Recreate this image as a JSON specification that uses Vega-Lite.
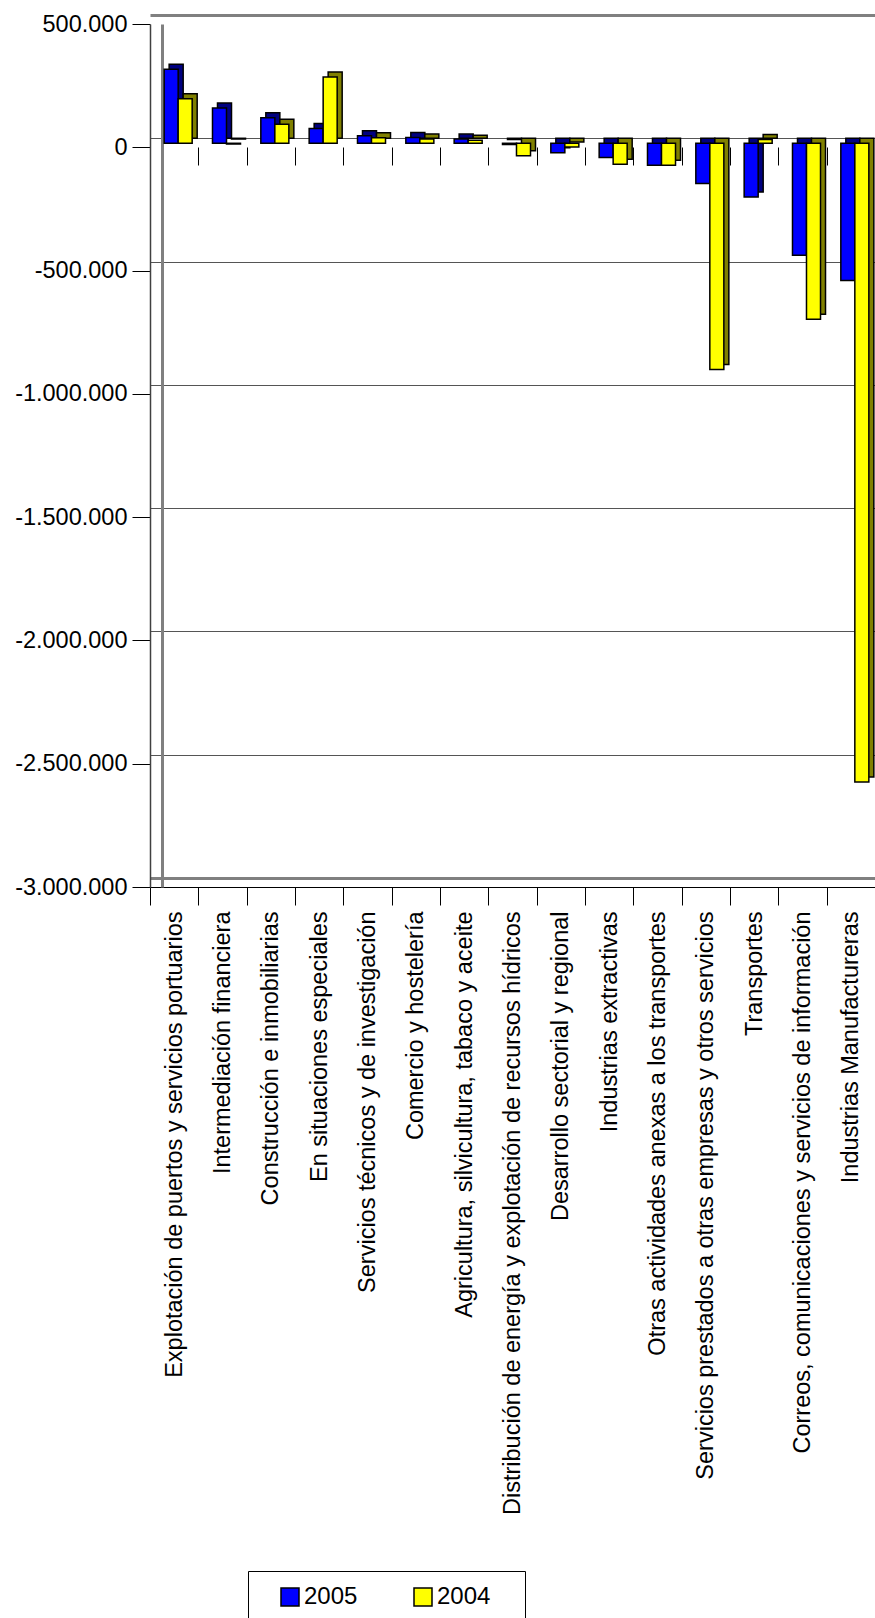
{
  "$schema": "https://vega.github.io/schema/vega-lite/v6.json",
  "autosize": {"type": "none"},
  "padding": {"left": 150, "top": 24, "right": 0, "bottom": 731},
  "width": 725,
  "height": 863,
  "background": "white",
  "config": {
    "view": {"stroke": null},
    "font": "Liberation Sans",
    "axis": {"labelFont": "Liberation Sans", "labelColor": "black"}
  },
  "data": {
    "values": [
      {"sector": "Explotación de puertos y servicios portuarios", "year": "2005", "value": 300000},
      {"sector": "Explotación de puertos y servicios portuarios", "year": "2004", "value": 181000},
      {"sector": "Intermediación financiera", "year": "2005", "value": 143000},
      {"sector": "Intermediación financiera", "year": "2004", "value": -3000},
      {"sector": "Construcción e inmobiliarias", "year": "2005", "value": 104000},
      {"sector": "Construcción e inmobiliarias", "year": "2004", "value": 77000},
      {"sector": "En situaciones especiales", "year": "2005", "value": 60000},
      {"sector": "En situaciones especiales", "year": "2004", "value": 269000},
      {"sector": "Servicios técnicos y de investigación", "year": "2005", "value": 31000},
      {"sector": "Servicios técnicos y de investigación", "year": "2004", "value": 22000},
      {"sector": "Comercio y hostelería", "year": "2005", "value": 23000},
      {"sector": "Comercio y hostelería", "year": "2004", "value": 17000},
      {"sector": "Agricultura, silvicultura, tabaco y aceite", "year": "2005", "value": 17000},
      {"sector": "Agricultura, silvicultura, tabaco y aceite", "year": "2004", "value": 12000},
      {"sector": "Distribución de energía y explotación de recursos hídricos", "year": "2005", "value": -5000},
      {"sector": "Distribución de energía y explotación de recursos hídricos", "year": "2004", "value": -51000},
      {"sector": "Desarrollo sectorial y regional", "year": "2005", "value": -38000},
      {"sector": "Desarrollo sectorial y regional", "year": "2004", "value": -15000},
      {"sector": "Industrias extractivas", "year": "2005", "value": -58000},
      {"sector": "Industrias extractivas", "year": "2004", "value": -85000},
      {"sector": "Otras actividades anexas a los transportes", "year": "2005", "value": -89000},
      {"sector": "Otras actividades anexas a los transportes", "year": "2004", "value": -89000},
      {"sector": "Servicios prestados a otras empresas y otros servicios", "year": "2005", "value": -163000},
      {"sector": "Servicios prestados a otras empresas y otros servicios", "year": "2004", "value": -917000},
      {"sector": "Transportes", "year": "2005", "value": -218000},
      {"sector": "Transportes", "year": "2004", "value": 15000},
      {"sector": "Correos, comunicaciones y servicios de información", "year": "2005", "value": -454000},
      {"sector": "Correos, comunicaciones y servicios de información", "year": "2004", "value": -714000},
      {"sector": "Industrias Manufactureras", "year": "2005", "value": -556000},
      {"sector": "Industrias Manufactureras", "year": "2004", "value": -2590000}
    ]
  },
  "resolve": {"axis": {"x": "independent", "y": "independent"}},
  "layer": [
    {
      "transform": [{"filter": "datum.year === '2005'"}],
      "mark": {"type": "bar", "opacity": 0},
      "encoding": {
        "x": {"field": "sector", "type": "nominal", "sort": null,
          "scale": {"paddingInner": 0, "paddingOuter": 0},
          "axis": {"orient": "bottom", "offset": -740, "title": null, "labels": false, "domain": false,
            "ticks": true, "tickBand": "extent", "tickSize": 18, "tickColor": "black", "tickWidth": 1, "grid": false}},
        "y": {"field": "value", "type": "quantitative",
          "scale": {"domain": [-3000000, 500000], "nice": false},
          "axis": {"orient": "left", "offset": -12, "title": null, "labels": false, "ticks": false,
            "values": [500000, 0, -500000, -1000000, -1500000, -2000000, -2500000, -3000000],
            "domain": true, "domainColor": "#808080", "domainWidth": 3,
            "grid": true, "tickOffset": -9,
            "gridColor": {"condition": {"test": "datum.value === 500000 || datum.value === -3000000", "value": "#808080"}, "value": "#555555"},
            "gridWidth": {"condition": {"test": "datum.value === 500000 || datum.value === -3000000", "value": 3}, "value": 1}}}
      }
    },
    {
      "transform": [{"filter": "datum.year === '2005'"}],
      "mark": {"type": "bar", "color": "#000080", "stroke": "black", "strokeWidth": 1.5, "width": {"band": 0.29}, "xOffset": 2, "x2Offset": 2, "yOffset": -9, "y2Offset": -9},
      "encoding": {
        "x": {"field": "sector", "type": "nominal", "sort": null, "axis": null},
        "y": {"field": "value", "type": "quantitative", "axis": null}
      }
    },
    {
      "transform": [{"filter": "datum.year === '2005'"}],
      "mark": {"type": "bar", "stroke": "black", "strokeWidth": 1.5, "width": {"band": 0.29}, "xOffset": -3, "x2Offset": -3, "yOffset": -4, "y2Offset": -4},
      "encoding": {
        "x": {"field": "sector", "type": "nominal", "sort": null,
          "axis": {"orient": "bottom", "title": null, "labelAngle": -90, "labelAlign": "right", "labelBaseline": "middle",
            "labelFontSize": 23.5, "labelLimit": 800, "labelPadding": 6, "tickBand": "extent", "tickSize": 18,
            "tickColor": "black", "domainColor": "black", "domainWidth": 1, "grid": false}},
        "y": {"field": "value", "type": "quantitative",
          "axis": {"orient": "left", "title": null, "grid": false,
            "values": [500000, 0, -500000, -1000000, -1500000, -2000000, -2500000, -3000000],
            "labelExpr": "replace(replace(format(datum.value, ','), regexp(',', 'g'), '.'), regexp('\u2212', 'g'), '-')",
            "labelFontSize": 23.5, "labelPadding": 5, "tickSize": 18, "tickColor": "black",
            "domainColor": "#404040", "domainWidth": 1.5}},
        "color": {"field": "year", "type": "nominal",
          "scale": {"domain": ["2005", "2004"], "range": ["#0000ff", "#ffff00"]},
          "legend": {"orient": "none", "legendX": 98, "legendY": 1547, "direction": "horizontal",
            "title": "\u00a0", "titleOrient": "right", "titlePadding": 21, "titleFontSize": 8,
            "strokeColor": "black", "fillColor": "white", "padding": 14, "symbolType": "square", "symbolSize": 324,
            "symbolStrokeColor": "black", "symbolStrokeWidth": 1.5, "symbolOpacity": 1, "labelFontSize": 24,
            "labelFont": "Liberation Sans", "labelColor": "black", "labelOffset": 2, "columnPadding": 37, "symbolOffset": 16}}
      }
    },
    {
      "transform": [{"filter": "datum.year === '2004'"}],
      "mark": {"type": "bar", "color": "#808000", "stroke": "black", "strokeWidth": 1.5, "width": {"band": 0.29}, "xOffset": 16, "x2Offset": 16, "yOffset": -9, "y2Offset": -9},
      "encoding": {
        "x": {"field": "sector", "type": "nominal", "sort": null, "axis": null},
        "y": {"field": "value", "type": "quantitative", "axis": null}
      }
    },
    {
      "transform": [{"filter": "datum.year === '2004'"}],
      "mark": {"type": "bar", "stroke": "black", "strokeWidth": 1.5, "width": {"band": 0.29}, "xOffset": 11, "x2Offset": 11, "yOffset": -4, "y2Offset": -4},
      "encoding": {
        "x": {"field": "sector", "type": "nominal", "sort": null, "axis": null},
        "y": {"field": "value", "type": "quantitative", "axis": null},
        "color": {"field": "year", "type": "nominal",
          "scale": {"domain": ["2005", "2004"], "range": ["#0000ff", "#ffff00"]},
          "legend": {"orient": "none", "legendX": 98, "legendY": 1547, "direction": "horizontal",
            "title": "\u00a0", "titleOrient": "right", "titlePadding": 21, "titleFontSize": 8,
            "strokeColor": "black", "fillColor": "white", "padding": 14, "symbolType": "square", "symbolSize": 324,
            "symbolStrokeColor": "black", "symbolStrokeWidth": 1.5, "symbolOpacity": 1, "labelFontSize": 24,
            "labelFont": "Liberation Sans", "labelColor": "black", "labelOffset": 2, "columnPadding": 37, "symbolOffset": 16}}
      }
    }
  ]
}
